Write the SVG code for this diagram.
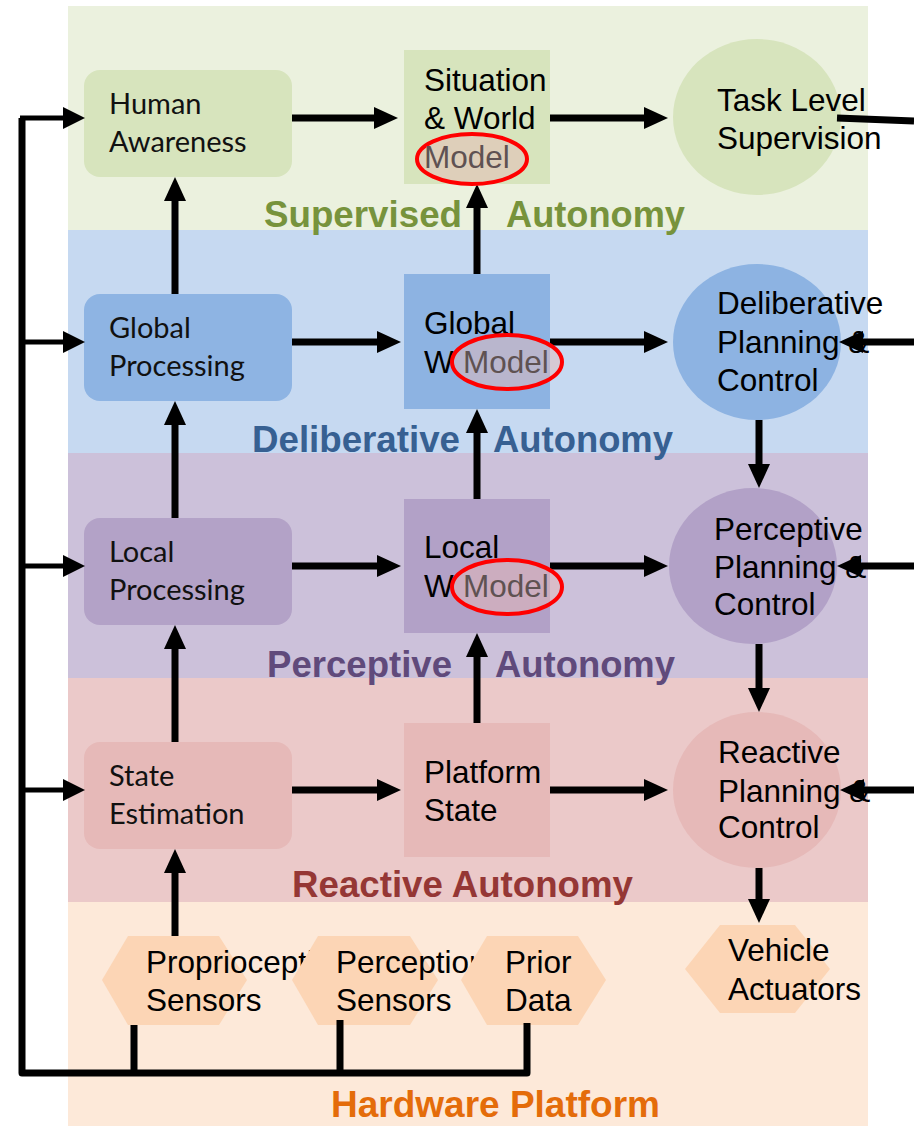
<svg xmlns="http://www.w3.org/2000/svg" width="914" height="1126" viewBox="0 0 914 1126">
  <style>
    .t { font-family: "Liberation Sans", Arial, sans-serif; font-size: 31.5px; fill: #000; }
    .c { font-family: Lato, "Open Sans", sans-serif; font-size: 29px; fill: #111; }
    .m { font-family: "Liberation Sans", Arial, sans-serif; font-size: 31.5px; fill: #5f5252; }
    .lbl { font-family: "Liberation Sans", Arial, sans-serif; font-size: 36px; font-weight: bold; }
    .ring { fill: #e6b9b8; fill-opacity: 0.5; stroke: #ff0000; stroke-width: 4; }
    .ln { fill: none; stroke: #000; stroke-width: 7; }
    .bus { fill: none; stroke: #000; stroke-width: 7; stroke-linejoin: round; }
    .tap { fill: none; stroke: #000; stroke-width: 5; }
  </style>
  <defs>
    <marker id="ah" viewBox="0 0 24 22" markerWidth="24" markerHeight="22" markerUnits="userSpaceOnUse" refX="0" refY="11" orient="auto">
      <path d="M0,0 L24,11 L0,22 z" fill="#000"/>
    </marker>
    <marker id="ahs" viewBox="0 0 22 22" markerWidth="22" markerHeight="22" markerUnits="userSpaceOnUse" refX="0" refY="11" orient="auto">
      <path d="M0,0 L22,11 L0,22 z" fill="#000"/>
    </marker>
  </defs>

  <rect width="914" height="1126" fill="#fff"/>

  <!-- autonomy layers -->
  <g id="layers">
    <rect x="68" y="6" width="800" height="224" fill="#ebf1de"/>
    <rect x="68" y="230" width="800" height="223" fill="#c6d9f1"/>
    <rect x="68" y="453" width="800" height="225" fill="#ccc1da"/>
    <rect x="68" y="678" width="800" height="224" fill="#ebc9c9"/>
    <rect x="68" y="902" width="800" height="224" fill="#fde9d9"/>
  </g>

  <g id="layer-labels">
    <text class="lbl" fill="#77933c" x="264" y="227" textLength="198" lengthAdjust="spacingAndGlyphs">Supervised</text>
    <text class="lbl" fill="#77933c" x="506" y="227" textLength="179" lengthAdjust="spacingAndGlyphs">Autonomy</text>
    <text class="lbl" fill="#376092" x="252" y="452" textLength="208" lengthAdjust="spacingAndGlyphs">Deliberative</text>
    <text class="lbl" fill="#376092" x="493" y="452" textLength="180" lengthAdjust="spacingAndGlyphs">Autonomy</text>
    <text class="lbl" fill="#604a7b" x="267" y="677" textLength="185" lengthAdjust="spacingAndGlyphs">Perceptive</text>
    <text class="lbl" fill="#604a7b" x="495" y="677" textLength="180" lengthAdjust="spacingAndGlyphs">Autonomy</text>
    <text class="lbl" fill="#953735" x="292" y="897" textLength="341" lengthAdjust="spacingAndGlyphs">Reactive Autonomy</text>
    <text class="lbl" fill="#e46c0a" x="331" y="1117" textLength="329" lengthAdjust="spacingAndGlyphs">Hardware Platform</text>
  </g>

  <!-- supervised layer -->
  <g id="human-awareness">
    <rect x="84" y="70" width="208" height="107" rx="16" fill="#d7e4bd"/>
    <text class="c" x="109" y="114">Human</text>
    <text class="c" x="109" y="152">Awareness</text>
  </g>
  <g id="situation-world-model">
    <rect x="404" y="50" width="146" height="134" fill="#d7e4bd"/>
    <text class="t" x="424" y="91">Situation</text>
    <text class="t" x="424" y="129">&amp; World</text>
  </g>
  <g id="task-level-supervision">
    <ellipse cx="757" cy="117" rx="84" ry="78" fill="#d7e4bd"/>
    <text class="t" x="717" y="111">Task Level</text>
    <text class="t" x="717" y="149">Supervision</text>
  </g>

  <!-- deliberative layer -->
  <g id="global-processing">
    <rect x="84" y="294" width="208" height="107" rx="16" fill="#8eb4e3"/>
    <text class="c" x="109" y="338">Global</text>
    <text class="c" x="109" y="376">Processing</text>
  </g>
  <g id="global-world-model">
    <rect x="404" y="274" width="146" height="135" fill="#8db3e2"/>
    <text class="t" x="424" y="334">Global</text>
    <text class="t" x="424" y="373">W</text>
  </g>
  <g id="deliberative-planning">
    <ellipse cx="757" cy="342" rx="84" ry="78" fill="#8db3e2"/>
    <text class="t" x="717" y="314">Deliberative</text>
    <text class="t" x="717" y="353">Planning &amp;</text>
    <text class="t" x="717" y="391">Control</text>
  </g>

  <!-- perceptive layer -->
  <g id="local-processing">
    <rect x="84" y="518" width="208" height="107" rx="16" fill="#b3a2c7"/>
    <text class="c" x="109" y="562">Local</text>
    <text class="c" x="109" y="600">Processing</text>
  </g>
  <g id="local-world-model">
    <rect x="404" y="499" width="146" height="134" fill="#b2a1c7"/>
    <text class="t" x="424" y="558">Local</text>
    <text class="t" x="424" y="597">W</text>
  </g>
  <g id="perceptive-planning">
    <ellipse cx="753" cy="566" rx="84" ry="78" fill="#b2a1c7"/>
    <text class="t" x="714" y="540">Perceptive</text>
    <text class="t" x="714" y="578">Planning &amp;</text>
    <text class="t" x="714" y="615">Control</text>
  </g>

  <!-- reactive layer -->
  <g id="state-estimation">
    <rect x="84" y="742" width="208" height="107" rx="16" fill="#e6b9b8"/>
    <text class="c" x="109" y="786">State</text>
    <text class="c" x="109" y="824">Estimation</text>
  </g>
  <g id="platform-state">
    <rect x="404" y="723" width="146" height="134" fill="#e6b9b8"/>
    <text class="t" x="424" y="783">Platform</text>
    <text class="t" x="424" y="821">State</text>
  </g>
  <g id="reactive-planning">
    <ellipse cx="757" cy="790" rx="84" ry="78" fill="#e6b9b8"/>
    <text class="t" x="718" y="763">Reactive</text>
    <text class="t" x="718" y="802">Planning &amp;</text>
    <text class="t" x="718" y="838">Control</text>
  </g>

  <!-- hardware platform -->
  <g id="proprioceptive-sensors">
    <polygon points="102,980 128,936 219,936 247,980 219,1025 128,1025" fill="#fcd5b5"/>
    <text class="t" x="146" y="973">Proprioceptive</text>
    <text class="t" x="146" y="1011">Sensors</text>
  </g>
  <g id="perception-sensors">
    <polygon points="292,980 318,936 410,936 438,980 410,1025 318,1025" fill="#fcd5b5"/>
    <text class="t" x="336" y="973">Perception</text>
    <text class="t" x="336" y="1011">Sensors</text>
  </g>
  <g id="prior-data">
    <polygon points="461,980 487,936 578,936 606,980 578,1025 487,1025" fill="#fcd5b5"/>
    <text class="t" x="505" y="973">Prior</text>
    <text class="t" x="505" y="1011">Data</text>
  </g>
  <g id="vehicle-actuators">
    <polygon points="685,969 720,925 795,925 830,969 795,1013 720,1013" fill="#fcd5b5"/>
    <text class="t" x="728" y="961">Vehicle</text>
    <text class="t" x="728" y="1000">Actuators</text>
  </g>

  <!-- connectors -->
  <g id="connectors">
    <!-- feedback bus from the hardware layer -->
    <path class="bus" d="M22,118 V1073 H527 V1023"/>
    <path class="bus" d="M134,1073 V1025 M340,1073 V1020"/>
    <path class="tap" d="M20,118 H63" marker-end="url(#ahs)"/>
    <path class="tap" d="M22,342 H63" marker-end="url(#ahs)"/>
    <path class="tap" d="M22,566 H63" marker-end="url(#ahs)"/>
    <path class="tap" d="M22,790 H63" marker-end="url(#ahs)"/>

    <!-- horizontal flow -->
    <path class="ln" d="M292,118 H374" marker-end="url(#ah)"/>
    <path class="ln" d="M550,118 H644" marker-end="url(#ah)"/>
    <path class="ln" d="M837,118 L914,121"/>
    <path class="ln" d="M292,342 H377" marker-end="url(#ah)"/>
    <path class="ln" d="M550,342 H644" marker-end="url(#ah)"/>
    <path class="ln" d="M914,342 H863" marker-end="url(#ah)"/>
    <path class="ln" d="M292,566 H377" marker-end="url(#ah)"/>
    <path class="ln" d="M550,566 H644" marker-end="url(#ah)"/>
    <path class="ln" d="M914,566 H861" marker-end="url(#ah)"/>
    <path class="ln" d="M292,790 H377" marker-end="url(#ah)"/>
    <path class="ln" d="M550,790 H644" marker-end="url(#ah)"/>
    <path class="ln" d="M914,790 H864" marker-end="url(#ah)"/>

    <!-- upward flow -->
    <path class="ln" d="M175,294 V201" marker-end="url(#ah)"/>
    <path class="ln" d="M175,518 V425" marker-end="url(#ah)"/>
    <path class="ln" d="M175,742 V649" marker-end="url(#ah)"/>
    <path class="ln" d="M175,936 V873" marker-end="url(#ah)"/>
    <path class="ln" d="M477,274 V208" marker-end="url(#ah)"/>
    <path class="ln" d="M477,499 V433" marker-end="url(#ah)"/>
    <path class="ln" d="M477,723 V657" marker-end="url(#ah)"/>

    <!-- downward flow -->
    <path class="ln" d="M759,420 V464" marker-end="url(#ah)"/>
    <path class="ln" d="M759,644 V688" marker-end="url(#ah)"/>
    <path class="ln" d="M759,868 V899" marker-end="url(#ah)"/>
  </g>

  <!-- highlighted model callouts -->
  <g id="model-callouts">
    <ellipse class="ring" cx="472" cy="159" rx="55" ry="25"/>
    <text class="m" x="424" y="168">Model</text>
    <ellipse class="ring" cx="507" cy="362" rx="55" ry="27"/>
    <text class="m" x="463" y="373">Model</text>
    <ellipse class="ring" cx="507" cy="587" rx="55" ry="27"/>
    <text class="m" x="463" y="597">Model</text>
  </g>
</svg>
